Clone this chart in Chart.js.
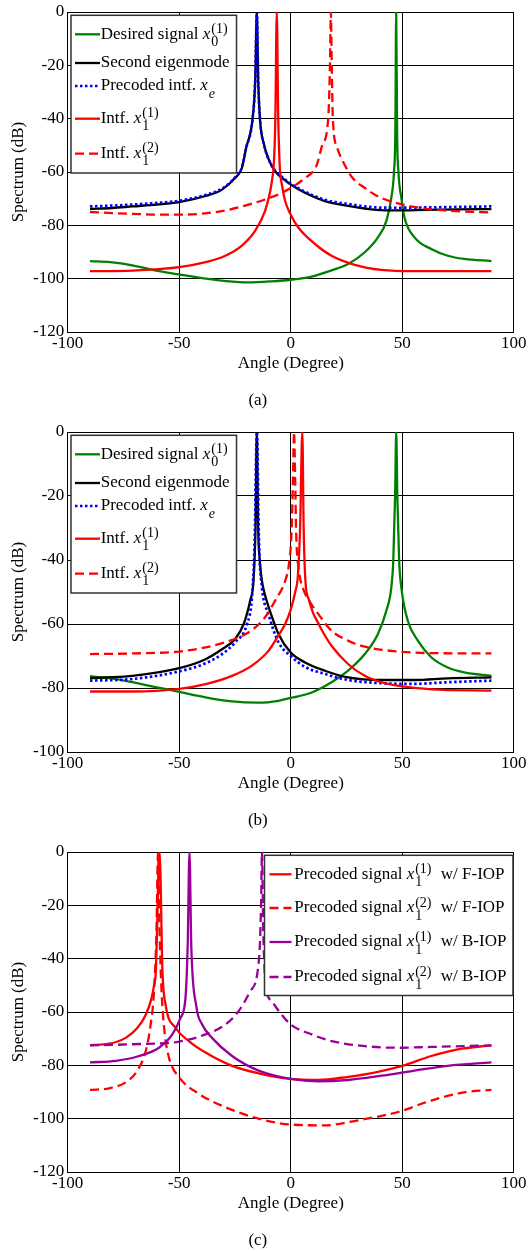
<!DOCTYPE html>
<html>
<head>
<meta charset="utf-8">
<title>Spectrum vs angle</title>
<script src="https://cdn.jsdelivr.net/npm/chart.js@4.4.1/dist/chart.umd.min.js"></script>
<style>
  body { margin: 0; background: #fff; }
  canvas { display: block; }
</style>
</head>
<body>
<canvas id="chartA" width="530" height="420"></canvas>
<canvas id="chartB" width="530" height="420"></canvas>
<canvas id="chartC" width="530" height="412"></canvas>
<script>
// ---- panel (a) ----
const aDesiredAng = [-90, -81, -71, -62, -50, -38, -29, -19, -8.5, 0, 9.4, 18.3, 25.7, 33.2, 39.1, 42.9, 45.1, 46.3, 46.9, 47.3, 47.7, 48.3, 49.6, 51, 55.5, 63, 70.4, 77.8, 90];
const aDesiredDb = [-93.4, -93.8, -95.0, -96.7, -98.4, -100.0, -100.9, -101.4, -101.0, -100.4, -99.2, -96.9, -94.5, -90.1, -84.5, -78.3, -69.7, -60, -45, 0, -45, -60, -69.7, -77.1, -84.5, -88.9, -91.4, -92.6, -93.4];
const aEigenAng = [-90, -80, -71, -60, -50, -38.2, -30.8, -24.9, -21.9, -20, -17.1, -15.9, -15.2, -14.6, -13.8, -11.9, -9.5, -7, -3.5, 0, 6.4, 15.3, 25.7, 38.4, 48, 60, 75, 90];
const aEigenDb = [-73.8, -73.5, -72.9, -72.2, -71.3, -69.0, -66.6, -62.2, -58.5, -51, -40, -25, 0, -25, -40, -50, -56, -59.7, -62.5, -64.7, -67.8, -70.9, -72.7, -74.2, -74.4, -74.2, -74.0, -73.9];
const aPrecodedDb = [-72.9, -72.6, -72.2, -71.6, -70.8, -68.6, -66.2, -62.0, -58.3, -51, -40, -25, 0, -25, -40, -50, -56, -59.5, -62.2, -64.4, -67.4, -70.4, -72.0, -73.3, -73.4, -73.3, -73.1, -72.9];
const aIntf1Ang = [-90, -71, -50, -38.2, -29.3, -21.9, -15.9, -11.5, -9.2, -8.2, -7.7, -7.2, -6.9, -6.25, -5.6, -5.2, -4.8, -4.0, -2.5, 0, 3.4, 10.9, 18.3, 28.7, 40.6, 55.5, 90];
const aIntf1Db = [-97.2, -97.0, -95.7, -93.8, -91.4, -87.6, -82.0, -74.6, -67.2, -62, -58.5, -50, -40, 0, -40, -52, -59.7, -64.5, -70.9, -76, -80.8, -87.0, -91.4, -94.8, -96.7, -97.2, -97.2];
const aIntf2Ang = [-90, -80, -71, -60, -50, -38.2, -29.3, -20.4, -11.5, -5, 0, 6, 11.6, 14.1, 16.8, 17.6, 18.0, 18.4, 18.9, 20.7, 24, 27.5, 33.2, 40, 48, 63, 90];
const aIntf2Db = [-75.0, -75.4, -75.7, -76.0, -76.0, -75.5, -74.4, -72.6, -70.3, -68.2, -66, -62.5, -57.5, -50, -40, -20, 0, -20, -40, -50.5, -57, -62, -66, -69.5, -71.8, -74, -75.2];

// ---- panel (b) ----
const bDesiredAng = [-90, -78.4, -71, -60.6, -50, -38.2, -26.3, -14.4, -5.5, 0, 9.4, 18.3, 25.7, 33.2, 39.1, 42.9, 45.1, 46.0, 46.8, 47.3, 47.8, 48.6, 49.6, 52.5, 57, 63, 70.4, 77.8, 90];
const bDesiredDb = [-76.3, -77.2, -78.2, -79.7, -81.2, -82.9, -84.2, -84.6, -84.0, -83.1, -81.4, -78.2, -74.6, -69.4, -63.1, -55.8, -48.6, -40, -20, 0, -20, -40, -48.6, -59.0, -65.2, -70.4, -73.6, -75.1, -76.2];
const bEigenAng = [-90, -71, -50, -38.2, -30.8, -24.9, -21.1, -18.2, -16.7, -15.8, -15.2, -14.6, -13.9, -12.9, -11.5, -10, -5.5, 0, 6.4, 15.3, 25.7, 40.6, 55.5, 70.4, 90];
const bEigenDb = [-76.9, -76.2, -73.8, -71.0, -67.9, -64.7, -60.0, -52.7, -46.5, -30, 0, -30, -40, -46.5, -51, -54.5, -63.1, -68.9, -72.0, -74.6, -76.7, -77.5, -77.5, -77.0, -76.7];
const bPrecodedAng = [-90, -71, -50, -38.2, -30.8, -24.9, -19.6, -17.4, -16.2, -15.2, -14.2, -12.9, -10, -5.5, 0, 6.4, 15.3, 25.7, 40.6, 55.5, 70.4, 90];
const bPrecodedDb = [-77.7, -77.2, -74.8, -72.3, -69.4, -65.7, -60.0, -51.7, -35, 0, -35, -48.6, -56.9, -65.7, -70.0, -73.4, -75.6, -77.5, -78.5, -78.7, -78.2, -77.7];
const bIntf1Ang = [-90, -71, -50, -38.2, -26.3, -17.4, -10, -5.5, -2.5, 0, 2.0, 3.2, 4.2, 5.2, 5.8, 6.6, 8.2, 10, 12.4, 15, 18.3, 25.7, 33.2, 40.6, 51, 63, 90];
const bIntf1Db = [-81.1, -81.1, -80.3, -78.8, -76.2, -73.0, -68.4, -63.6, -60, -55.5, -50, -45, -30, 0, -30, -46.6, -52.5, -56.5, -59.8, -63.2, -66.8, -72.5, -76.2, -78.2, -79.6, -80.4, -80.8];
const bIntf2Ang = [-90, -71, -50, -38.2, -29.3, -23.4, -17.4, -11.5, -7, -2.5, -0.8, 0.4, 1.0, 1.5, 2.0, 2.4, 3.7, 5.6, 8.5, 12.4, 18.3, 25.7, 33.2, 48.1, 63, 90];
const bIntf2Db = [-69.4, -69.2, -68.6, -67.3, -65.7, -64.2, -61.9, -57.9, -52.7, -46.5, -41.3, -30.8, -15, 0, -15, -30.8, -43.3, -49, -53, -56.9, -62.1, -65.2, -67.1, -68.6, -69.1, -69.2];

// ---- panel (c) ----
const cF1Ang = [-90, -81.4, -74, -68.8, -65, -62.4, -61.3, -60.5, -58.8, -57.5, -56.1, -51.6, -45.7, -38.2, -26.3, -14.4, 0, 12.4, 25.7, 37.6, 50, 63, 74.9, 90];
const cF1Db = [-72.4, -71.9, -69.7, -66.0, -61.0, -54.8, -50, -45, 0, -45, -57.3, -66.0, -70.9, -75.2, -80.2, -83.0, -85.1, -85.5, -84.3, -82.7, -80.2, -76.5, -74.0, -72.5];
const cF2Ang = [-90, -81.4, -74, -68.8, -65, -62.8, -61.3, -60.2, -59.5, -58.8, -57.9, -56.5, -54.6, -50, -41.2, -29.3, -14.4, 0, 15.3, 30.2, 48.1, 63, 77.8, 90];
const cF2Db = [-89.2, -88.6, -86.4, -82.0, -74.6, -64.7, -52.3, -30, 0, -30, -52.3, -68, -77.1, -84.5, -90.7, -95.7, -100.0, -102.2, -102.5, -100.6, -97.5, -93.2, -90.1, -89.2];
const cB1Ang = [-90, -78.4, -68, -59.1, -53.1, -49.4, -47.2, -46.2, -45.4, -44.6, -42.3, -39.7, -35.3, -26.3, -14.4, 0, 12.4, 25.7, 40.6, 55.5, 70.4, 90];
const cB1Db = [-78.9, -78.3, -76.5, -73.4, -68.4, -62.2, -54.8, -35, 0, -35, -58, -64.7, -69.7, -76.5, -82.0, -85.1, -86.0, -85.5, -83.9, -82.0, -80.2, -78.9];
const cB2Ang = [-90, -71, -50, -38.2, -29.3, -23.4, -18.2, -14.2, -13.3, -12.9, -12.3, -11.2, -8.5, -5, 0, 9.4, 18.3, 33.2, 48.1, 63, 90];
const cB2Db = [-72.5, -72.1, -71.1, -68.4, -64.7, -59.7, -52.3, -40, -20, 0, -30, -50, -56, -60, -64.7, -68.4, -70.9, -72.8, -73.4, -73.1, -72.5];

const FONT = '"Liberation Serif", "Times New Roman", serif';
const GREEN = '#008000', RED = '#ff0000', BLUE = '#0000ff', PURPLE = '#990099';
const DASH = [9, 5];
const DOT = [2.5, 2.5];

Chart.defaults.font.family = FONT;
Chart.defaults.color = '#000';

function points(angles, values) {
  return angles.map((a, i) => ({ x: a, y: values[i] }));
}

function curve(label, angles, values, color, dash, width) {
  return {
    label: label,
    data: points(angles, values),
    borderColor: color,
    borderDash: dash || [],
    borderWidth: width || 2.3,
    pointRadius: 0,
    fill: false,
    cubicInterpolationMode: 'monotone'
  };
}

// legend with sub/superscripts, drawn on the canvas
function drawParts(ctx, parts, x, y) {
  for (const p of parts) {
    if (p.t !== undefined) {
      ctx.font = (p.i ? 'italic ' : '') + '17px ' + FONT;
      ctx.fillText(p.t, x, y);
      x += ctx.measureText(p.t).width;
    } else {
      ctx.font = (p.i ? 'italic ' : '') + '14px ' + FONT;
      let w = 0;
      if (p.sup) {
        ctx.fillText(p.sup, x + 1, y - 5);
        w = Math.max(w, ctx.measureText(p.sup).width);
      }
      if (p.sub) {
        ctx.fillText(p.sub, x + 1, y + 8);
        w = Math.max(w, ctx.measureText(p.sub).width);
      }
      x += w + 6;
    }
  }
}

function mathLegend(spec) {
  return {
    id: 'mathLegend',
    afterDraw(chart) {
      const ctx = chart.ctx;
      const area = chart.chartArea;
      const bx = area.left + spec.dx, by = area.top + spec.dy;
      ctx.save();
      ctx.fillStyle = '#fff';
      ctx.fillRect(bx, by, spec.w, spec.h);
      ctx.strokeStyle = '#333';
      ctx.lineWidth = 1.5;
      ctx.setLineDash([]);
      ctx.strokeRect(bx, by, spec.w, spec.h);
      spec.rows.forEach((rowY, i) => {
        const ds = chart.data.datasets[i];
        const y = by + rowY;
        ctx.beginPath();
        ctx.setLineDash(ds.borderDash);
        ctx.strokeStyle = ds.borderColor;
        ctx.lineWidth = ds.borderWidth;
        ctx.moveTo(bx + spec.line0, y);
        ctx.lineTo(bx + spec.line1, y);
        ctx.stroke();
        ctx.setLineDash([]);
        ctx.fillStyle = '#000';
        ctx.textBaseline = 'middle';
        ctx.textAlign = 'left';
        drawParts(ctx, spec.labels[i], bx + spec.textX, y);
      });
      ctx.restore();
    }
  };
}

function makeChart(id, datasets, yMin, caption, captionPad, legend) {
  datasets.forEach((d, i) => { d.order = datasets.length - i; });
  new Chart(document.getElementById(id), {
    type: 'line',
    data: { datasets: datasets },
    plugins: [mathLegend(legend)],
    options: {
      responsive: false,
      animation: false,
      events: [],
      layout: { padding: { top: 10, right: 14.3, bottom: 0, left: 0 } },
      plugins: {
        legend: { display: false },
        tooltip: { enabled: false },
        title: {
          display: true,
          text: caption,
          position: 'bottom',
          color: '#000',
          font: { family: FONT, size: 17, weight: 'normal' },
          padding: { top: 0, bottom: captionPad }
        }
      },
      scales: {
        x: {
          type: 'linear',
          min: -100,
          max: 100,
          ticks: { stepSize: 50, color: '#000', padding: 3.5, maxRotation: 0, font: { size: 17, lineHeight: 1 } },
          grid: { color: '#000', lineWidth: 1, drawTicks: false },
          border: { color: '#000', width: 1 },
          title: { display: true, text: 'Angle (Degree)', color: '#000', font: { size: 17 }, padding: { top: 0, bottom: 16.7 } },
          afterFit: (s) => { s.height = 58.3; }
        },
        y: {
          min: yMin,
          max: 0,
          ticks: { stepSize: 20, color: '#000', padding: 3.5, font: { size: 17, lineHeight: 1 } },
          grid: { color: '#000', lineWidth: 1, drawTicks: false },
          border: { color: '#000', width: 1 },
          title: { display: true, text: 'Spectrum (dB)', color: '#000', font: { size: 17 }, padding: { top: 8.8, bottom: 0 } },
          afterFit: (s) => { s.width = 67.7; }
        }
      }
    }
  });
}

const topLabels = [
  [{ t: 'Desired signal ' }, { t: 'x', i: true }, { sup: '(1)', sub: '0' }],
  [{ t: 'Second eigenmode' }],
  [{ t: 'Precoded intf. ' }, { t: 'x', i: true }, { sub: 'e', i: true }],
  [{ t: 'Intf. ' }, { t: 'x', i: true }, { sup: '(1)', sub: '1' }],
  [{ t: 'Intf. ' }, { t: 'x', i: true }, { sup: '(2)', sub: '1' }]
];
const topLegend = { dx: 3.3, dy: 3.3, w: 165.5, h: 157.7, line0: 4, line1: 29, textX: 29.7, rows: [19, 47.7, 70.7, 103.4, 138.4], labels: topLabels };

makeChart('chartA', [
  curve('Desired signal', aDesiredAng, aDesiredDb, GREEN),
  curve('Second eigenmode', aEigenAng, aEigenDb, '#000'),
  curve('Precoded intf.', aEigenAng, aPrecodedDb, BLUE, DOT, 2.7),
  curve('Intf. 1', aIntf1Ang, aIntf1Db, RED),
  curve('Intf. 2', aIntf2Ang, aIntf2Db, RED, DASH)
], -120, '(a)', 9.3, topLegend);

makeChart('chartB', [
  curve('Desired signal', bDesiredAng, bDesiredDb, GREEN),
  curve('Second eigenmode', bEigenAng, bEigenDb, '#000'),
  curve('Precoded intf.', bPrecodedAng, bPrecodedDb, BLUE, DOT, 2.7),
  curve('Intf. 1', bIntf1Ang, bIntf1Db, RED),
  curve('Intf. 2', bIntf2Ang, bIntf2Db, RED, DASH)
], -100, '(b)', 9.3, topLegend);

makeChart('chartC', [
  curve('F-IOP 1', cF1Ang, cF1Db, RED),
  curve('F-IOP 2', cF2Ang, cF2Db, RED, DASH),
  curve('B-IOP 1', cB1Ang, cB1Db, PURPLE),
  curve('B-IOP 2', cB2Ang, cB2Db, PURPLE, DASH)
], -120, '(c)', 1.3, {
  dx: 196.8, dy: 3.3, w: 248.5, h: 140.2, line0: 5, line1: 27, textX: 29.8,
  rows: [19, 52.7, 86.7, 121.7],
  labels: [
    [{ t: 'Precoded signal ' }, { t: 'x', i: true }, { sup: '(1)', sub: '1' }, { t: ' w/ F-IOP' }],
    [{ t: 'Precoded signal ' }, { t: 'x', i: true }, { sup: '(2)', sub: '1' }, { t: ' w/ F-IOP' }],
    [{ t: 'Precoded signal ' }, { t: 'x', i: true }, { sup: '(1)', sub: '1' }, { t: ' w/ B-IOP' }],
    [{ t: 'Precoded signal ' }, { t: 'x', i: true }, { sup: '(2)', sub: '1' }, { t: ' w/ B-IOP' }]
  ]
});
</script>
</body>
</html>
